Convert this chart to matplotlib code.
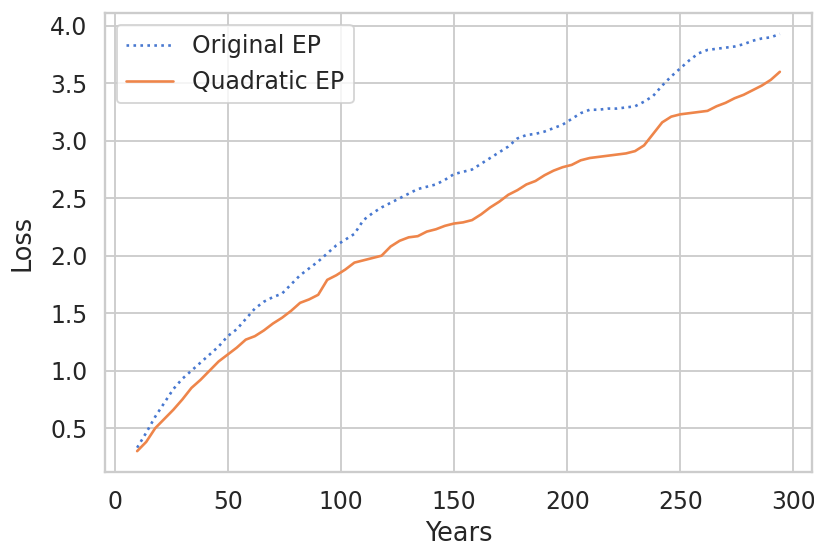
import numpy as np
import matplotlib
matplotlib.use("Agg")
import matplotlib.pyplot as plt
import seaborn as sns

sns.set_theme(style="whitegrid", palette="muted", font_scale=1.14)

years = np.arange(10, 295, 4)
original_ep = [
    0.33, 0.46, 0.60, 0.72, 0.84, 0.93, 1.00, 1.07, 1.14, 1.21,
    1.30, 1.36, 1.45, 1.54, 1.60, 1.64, 1.67, 1.75, 1.83, 1.89,
    1.95, 2.02, 2.09, 2.14, 2.19, 2.31, 2.37, 2.42, 2.46, 2.50,
    2.54, 2.58, 2.60, 2.62, 2.66, 2.71, 2.73, 2.75, 2.80, 2.85,
    2.90, 2.95, 3.02, 3.05, 3.06, 3.08, 3.11, 3.14, 3.19, 3.24,
    3.27, 3.27, 3.28, 3.28, 3.29, 3.30, 3.34, 3.39, 3.48, 3.56,
    3.63, 3.70, 3.76, 3.79, 3.80, 3.81, 3.82, 3.84, 3.87, 3.89,
    3.90, 3.93,
]
quadratic_ep = [
    0.30, 0.38, 0.50, 0.58, 0.66, 0.75, 0.85, 0.92, 1.00, 1.08,
    1.14, 1.20, 1.27, 1.30, 1.35, 1.41, 1.46, 1.52, 1.59, 1.62,
    1.66, 1.79, 1.83, 1.88, 1.94, 1.96, 1.98, 2.00, 2.08, 2.13,
    2.16, 2.17, 2.21, 2.23, 2.26, 2.28, 2.29, 2.31, 2.36, 2.42,
    2.47, 2.53, 2.57, 2.62, 2.65, 2.70, 2.74, 2.77, 2.79, 2.83,
    2.85, 2.86, 2.87, 2.88, 2.89, 2.91, 2.96, 3.06, 3.16, 3.21,
    3.23, 3.24, 3.25, 3.26, 3.30, 3.33, 3.37, 3.40, 3.44, 3.48,
    3.53, 3.60,
]

DPI = 135
fig, ax = plt.subplots(figsize=(814 / DPI, 547 / DPI), dpi=DPI)
fig.subplots_adjust(left=105 / 814, right=812 / 814, top=1 - 13 / 547, bottom=1 - 472 / 547)

ax.plot(years, original_ep, ls=":", lw=1.4, label="Original EP")
ax.plot(years, quadratic_ep, ls="-", lw=1.4, label="Quadratic EP")

ax.set_xlabel("Years")
ax.set_ylabel("Loss", labelpad=7.5)
ax.legend(loc="upper left", handlelength=2.0)

fig.savefig("out.png", dpi=DPI)
